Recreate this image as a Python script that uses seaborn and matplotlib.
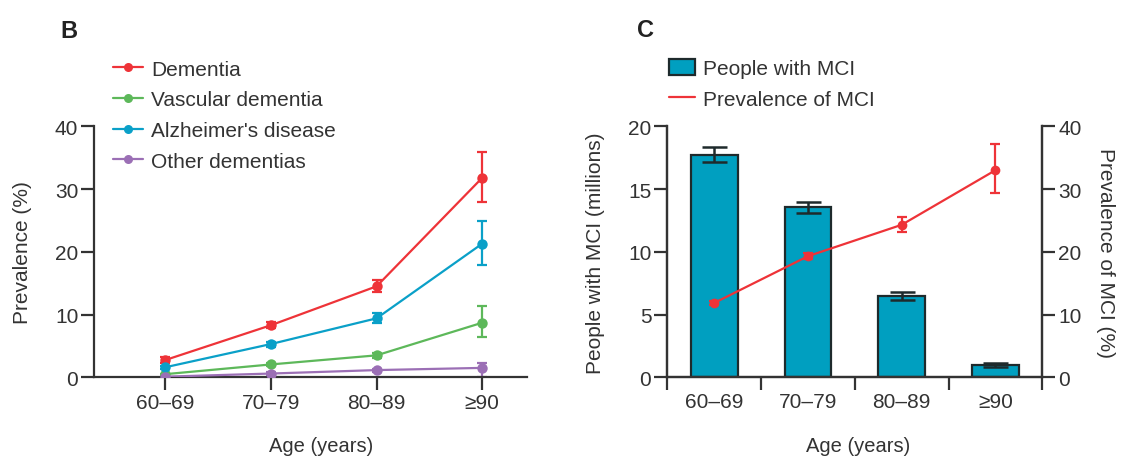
import numpy as np
import pandas as pd
import matplotlib
matplotlib.use("Agg")
import matplotlib.pyplot as plt
import seaborn as sns
from matplotlib.lines import Line2D
from matplotlib.patches import Patch

# Data
ages = ["60–69", "70–79", "80–89", "≥90"]

dementia = [2.75, 8.3, 14.5, 31.8]
dementia_lo = [2.3, 7.8, 13.6, 27.9]
dementia_hi = [3.2, 8.8, 15.5, 35.9]

vascular = [0.5, 2.05, 3.5, 8.7]
vascular_lo = [0.4, 1.8, 3.1, 6.5]
vascular_hi = [0.6, 2.3, 3.9, 11.4]

alzheimers = [1.6, 5.3, 9.4, 21.3]
alzheimers_lo = [1.4, 4.9, 8.6, 17.9]
alzheimers_hi = [1.8, 5.7, 10.2, 24.9]

other = [0.1, 0.6, 1.15, 1.5]
other_lo = [0.0, 0.4, 0.9, 0.1]
other_hi = [0.2, 0.8, 1.4, 2.3]

mci_people = [17.75, 13.55, 6.5, 0.98]
mci_people_lo = [17.17, 13.07, 6.14, 0.85]
mci_people_hi = [18.36, 14.0, 6.83, 1.12]

mci_prev = [11.85, 19.3, 24.3, 33.0]
mci_prev_lo = [11.5, 18.8, 23.1, 29.3]
mci_prev_hi = [12.2, 19.8, 25.5, 37.1]

series_names = ["Dementia", "Vascular dementia", "Alzheimer's disease", "Other dementias"]
series_vals = [dementia, vascular, alzheimers, other]
series_lo = [dementia_lo, vascular_lo, alzheimers_lo, other_lo]
series_hi = [dementia_hi, vascular_hi, alzheimers_hi, other_hi]
colors = ["#EE3338", "#5DB85A", "#0AA0C8", "#9B6FB5"]
bar_col = "#009FC0"
edge_col = "#1E2A2C"

sns.set_style("ticks")
plt.rcParams['font.family'] = ['Liberation Sans', 'DejaVu Sans']
plt.rcParams['font.size'] = 15
text_col = "#333333"
axis_col = "#333333"

fig = plt.figure(figsize=(11.21, 4.6), dpi=100)
ax_b = fig.add_axes([0.0841, 0.1776, 0.3857, 0.5457])
ax_c = fig.add_axes([0.5953, 0.1776, 0.3345, 0.5457])

pos = np.arange(len(ages))

# ---- Panel B: line chart with error bars
rows = []
for name, vals in zip(series_names, series_vals):
    for i, v in enumerate(vals):
        rows.append({"pos": pos[i], "value": v, "type": name})
df_b = pd.DataFrame(rows)

sns.lineplot(data=df_b, x="pos", y="value", hue="type", hue_order=series_names,
             palette=colors, marker="o", markersize=7.5, markeredgewidth=0,
             linewidth=1.6, ax=ax_b, legend=False, zorder=3)
for vals, lo, hi, c in zip(series_vals, series_lo, series_hi, colors):
    vals = np.array(vals)
    yerr = [vals - np.array(lo), np.array(hi) - vals]
    ax_b.errorbar(pos, vals, yerr=yerr, fmt="none", ecolor=c, elinewidth=1.6,
                  capsize=3.5, capthick=1.6, zorder=2)

ax_b.set_xlim(-0.672, 3.42)
ax_b.set_ylim(0, 40)
ax_b.set_yticks([0, 10, 20, 30, 40])
ax_b.set_xticks(pos)
ax_b.set_xticklabels(ages)
ax_b.set_xlabel("Age (years)", color=text_col, fontsize=14.5, va="center")
ax_b.xaxis.set_label_coords(0.524, -0.27)
ax_b.set_ylabel("Prevalence (%)", color=text_col, fontsize=15, va="center")
ax_b.yaxis.set_label_coords((23 - 94.3) / 432.4, 0.5)
sns.despine(ax=ax_b)

handles_b = [Line2D([0], [0], color=c, marker="o", markersize=6.5, linewidth=1.6,
                    markeredgewidth=0) for c in colors]
ax_b.legend(handles_b, series_names, loc="upper left", bbox_to_anchor=(113 / 1121, 0.868),
            bbox_transform=fig.transFigure, frameon=False, handlelength=1.44,
            handletextpad=0.4, labelspacing=0.56, borderpad=0, borderaxespad=0,
            fontsize=15, labelcolor=text_col)

# ---- Panel C: bars plus prevalence line on a second axis
df_c = pd.DataFrame({"age": ages, "people": mci_people})
sns.barplot(data=df_c, x="age", y="people", order=ages, color=bar_col,
            saturation=1, width=0.5, edgecolor=edge_col, linewidth=1.6, ax=ax_c)
people = np.array(mci_people)
ax_c.errorbar(pos, people, yerr=[people - np.array(mci_people_lo), np.array(mci_people_hi) - people],
              fmt="none", ecolor=edge_col, elinewidth=1.8, capsize=9, capthick=1.8, zorder=3)

ax_c.set_xlim(-0.5, 3.5)
ax_c.set_ylim(0, 20)
ax_c.set_yticks([0, 5, 10, 15, 20])
ax_c.set_xticks([-0.5, 0.5, 1.5, 2.5, 3.5])
ax_c.set_xticklabels([])
ax_c.set_xticks(pos, minor=True)
ax_c.set_xticklabels(ages, minor=True)
ax_c.set_xlabel("Age (years)", color=text_col, fontsize=14.5, va="center")
ax_c.xaxis.set_label_coords(0.508, -0.27)
ax_c.set_ylabel("People with MCI (millions)", color=text_col, fontsize=15, va="center")
ax_c.yaxis.set_label_coords((595 - 667.3) / 375, 0.5)

ax_r = ax_c.twinx()
df_line = pd.DataFrame({"pos": pos, "prev": mci_prev})
sns.lineplot(data=df_line, x="pos", y="prev", color=colors[0], marker="o", markersize=7,
             markeredgewidth=0, linewidth=1.6, ax=ax_r, zorder=3)
prev = np.array(mci_prev)
ax_r.errorbar(pos, prev, yerr=[prev - np.array(mci_prev_lo), np.array(mci_prev_hi) - prev],
              fmt="none", ecolor=colors[0], elinewidth=1.6, capsize=3.3, capthick=1.6)
ax_r.set_ylim(0, 40)
ax_r.set_yticks([0, 10, 20, 30, 40])
ax_r.set_ylabel("Prevalence of MCI (%)", color=text_col, rotation=270, fontsize=15,
                va="center")
ax_r.yaxis.set_label_coords((1105 - 667.3) / 375, 0.5)
ax_r.set_xlim(-0.5, 3.5)

for a in (ax_c, ax_r):
    a.spines["top"].set_visible(False)

for a in (ax_b, ax_c, ax_r):
    for s in a.spines.values():
        s.set_color(axis_col)
        s.set_linewidth(1.6)
    a.tick_params(which="major", length=9.5, width=1.6, color=axis_col,
                  labelcolor=text_col, labelsize=15, pad=2)
ax_c.tick_params(axis="x", which="minor", length=0, pad=10.5, labelcolor=text_col, labelsize=15)

handles_c = [Patch(facecolor=bar_col, edgecolor=edge_col, linewidth=1.6),
             Line2D([0], [0], color=colors[0], linewidth=1.6)]
ax_c.legend(handles_c, ["People with MCI", "Prevalence of MCI"], loc="upper left",
            bbox_to_anchor=(669 / 1121, 0.87), bbox_transform=fig.transFigure, frameon=False,
            handlelength=1.25, handleheight=0.8, handletextpad=0.4, labelspacing=0.56,
            borderpad=0, borderaxespad=0, fontsize=15, labelcolor=text_col)

fig.text(60 / 1121, 1 - 20 / 460, "B", fontsize=17, fontweight="bold", color="#222222", va="top")
fig.text(637 / 1121, 1 - 19 / 460, "C", fontsize=17, fontweight="bold", color="#222222", va="top")

fig.savefig("out.png", dpi=100)
plt.close(fig)
